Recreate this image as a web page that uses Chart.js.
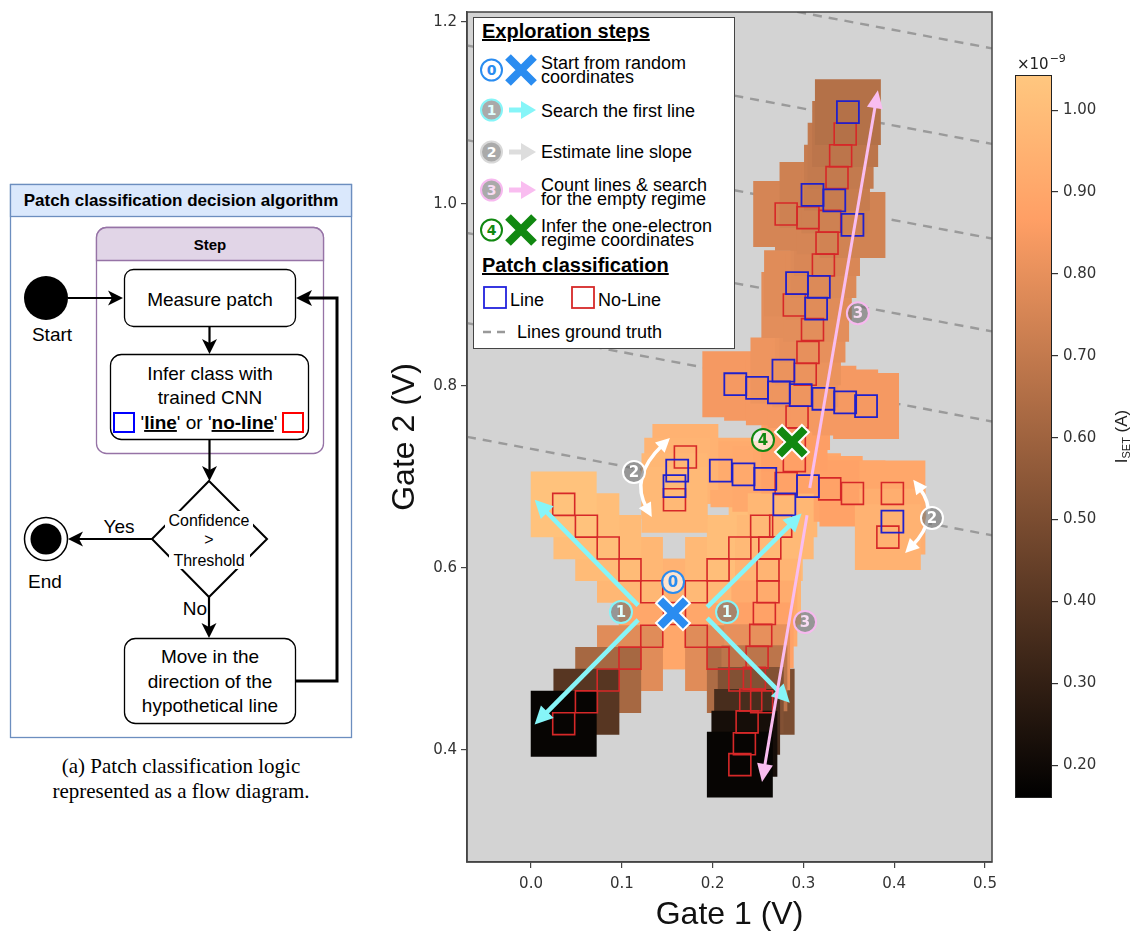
<!DOCTYPE html>
<html>
<head>
<meta charset="utf-8">
<title>Patch classification</title>
<script src="https://cdn.jsdelivr.net/npm/chart.js@4.4.1/dist/chart.umd.min.js"></script>
<style>
  html, body { margin: 0; padding: 0; background: #fff; }
  body { width: 1130px; height: 937px; position: relative; overflow: hidden; font-family: "Liberation Sans", Arial, sans-serif; }
  #flow { position: absolute; left: 0; top: 0; }
  #main { position: absolute; left: 380px; top: 0; }
  #cbar { position: absolute; left: 1000px; top: 0; }
  #legend { position: absolute; left: 473px; top: 17px; }
</style>
</head>
<body>

<svg id="flow" width="370" height="820" font-family="'Liberation Sans', Arial, sans-serif">
  <rect x="10.5" y="184.5" width="341" height="553" fill="#fff" stroke="#6c8ebf" stroke-width="1.3"/>
  <rect x="10.5" y="184.5" width="341" height="32" fill="#dae8fc" stroke="#6c8ebf" stroke-width="1.3"/>
  <text x="181" y="206" text-anchor="middle" font-size="17" font-weight="bold">Patch classification decision algorithm</text>

  <rect x="96.5" y="227.5" width="227" height="226" rx="10" fill="#fff" stroke="#9673a6" stroke-width="1.3"/>
  <path d="M96.5,260.5 V237.5 A10,10 0 0 1 106.5,227.5 H313.5 A10,10 0 0 1 323.5,237.5 V260.5 Z" fill="#e1d5e7" stroke="#9673a6" stroke-width="1.3"/>
  <text x="210" y="250" text-anchor="middle" font-size="15" font-weight="bold">Step</text>

  <circle cx="46" cy="298" r="22" fill="#000"/>
  <text x="52" y="341" text-anchor="middle" font-size="19">Start</text>
  <line x1="68" y1="298" x2="113" y2="298" stroke="#000" stroke-width="2.2"/>
  <path d="M123,298 L108,290.5 L112,298 L108,305.5 Z"/>

  <rect x="124.5" y="269.5" width="171" height="57" rx="9" fill="#fff" stroke="#000" stroke-width="1.3"/>
  <text x="210" y="306" text-anchor="middle" font-size="19">Measure patch</text>
  <line x1="209.5" y1="327" x2="209.5" y2="344" stroke="#000" stroke-width="2.2"/>
  <path d="M209.5,354 L202,339 L209.5,343 L217,339 Z"/>

  <rect x="110.5" y="354.5" width="198" height="85" rx="11" fill="#fff" stroke="#000" stroke-width="1.3"/>
  <text x="210" y="380" text-anchor="middle" font-size="19">Infer class with</text>
  <text x="210" y="404" text-anchor="middle" font-size="19">trained CNN</text>
  <text x="209" y="429" text-anchor="middle" font-size="19">'<tspan font-weight="bold" text-decoration="underline">line</tspan>' or '<tspan font-weight="bold" text-decoration="underline">no-line</tspan>'</text>
  <rect x="114" y="413" width="20" height="19" fill="none" stroke="#0000ff" stroke-width="2"/>
  <rect x="283" y="413" width="20" height="19" fill="none" stroke="#ff0000" stroke-width="2"/>
  <line x1="209.5" y1="440" x2="209.5" y2="470" stroke="#000" stroke-width="2.2"/>
  <path d="M209.5,481 L202,466 L209.5,470 L217,466 Z"/>

  <polygon points="209,481 267,539 209,597 152,539" fill="#fff" stroke="#000" stroke-width="2"/>
  <rect x="165" y="511" width="88" height="19" fill="#fff"/>
  <rect x="169" y="550" width="81" height="19" fill="#fff"/>
  <text x="209" y="526" text-anchor="middle" font-size="16">Confidence</text>
  <text x="209" y="545" text-anchor="middle" font-size="16">&gt;</text>
  <text x="209" y="566" text-anchor="middle" font-size="16">Threshold</text>

  <text x="119" y="533" text-anchor="middle" font-size="19">Yes</text>
  <line x1="152" y1="539" x2="79" y2="539" stroke="#000" stroke-width="2.2"/>
  <path d="M68,539 L83,531.5 L79,539 L83,546.5 Z"/>
  <circle cx="46" cy="539" r="21.5" fill="#fff" stroke="#000" stroke-width="1.5"/>
  <circle cx="46" cy="539" r="15.5" fill="#000"/>
  <text x="45" y="588" text-anchor="middle" font-size="19">End</text>

  <text x="207" y="615" text-anchor="end" font-size="19">No</text>
  <line x1="209" y1="597" x2="209" y2="628" stroke="#000" stroke-width="2.2"/>
  <path d="M209,638 L201.5,623 L209,627 L216.5,623 Z"/>

  <rect x="124.5" y="638.5" width="171" height="85" rx="11" fill="#fff" stroke="#000" stroke-width="1.3"/>
  <text x="210" y="663" text-anchor="middle" font-size="19">Move in the</text>
  <text x="210" y="688" text-anchor="middle" font-size="19">direction of the</text>
  <text x="210" y="712" text-anchor="middle" font-size="19">hypothetical line</text>

  <polyline points="296,681 337,681 337,298 308,298" fill="none" stroke="#000" stroke-width="3"/>
  <path d="M296,298 L312,290 L308,298 L312,306 Z"/>

  <text x="181" y="773" text-anchor="middle" font-size="21" font-family="'Liberation Serif', 'Times New Roman', serif">(a) Patch classification logic</text>
  <text x="181" y="798" text-anchor="middle" font-size="21" font-family="'Liberation Serif', 'Times New Roman', serif">represented as a flow diagram.</text>
</svg>

<canvas id="main" width="620" height="937"></canvas>
<canvas id="cbar" width="130" height="937"></canvas>

<svg id="legend" width="263" height="333" font-family="'Liberation Sans', Arial, sans-serif" font-size="18">
  <rect x="0.5" y="0.5" width="261" height="331" fill="#fff" stroke="#444" stroke-width="1"/>
  <text x="9" y="21" font-size="20" font-weight="bold" text-decoration="underline">Exploration steps</text>

  <circle cx="18.5" cy="53" r="10.5" fill="#fff" stroke="#2a8cf0" stroke-width="2"/>
  <text x="18.5" y="58" text-anchor="middle" font-family="'DejaVu Sans'" font-weight="bold" font-size="14" fill="#2a8cf0">0</text>
  <path d="M35,40 L61,66 M61,40 L35,66" stroke="#2a8cf0" stroke-width="8"/>
  <text x="68" y="52">Start from random</text>
  <text x="68" y="66">coordinates</text>

  <circle cx="18.5" cy="93" r="10.5" fill="#aaa" stroke="#86f5f8" stroke-width="2"/>
  <text x="18.5" y="98" text-anchor="middle" font-family="'DejaVu Sans'" font-weight="bold" font-size="14" fill="#dfffff">1</text>
  <line x1="36" y1="93" x2="52" y2="93" stroke="#86f5f8" stroke-width="5"/>
  <path d="M63,93 L48,84 L48,102 Z" fill="#86f5f8"/>
  <text x="68" y="100">Search the first line</text>

  <circle cx="18.5" cy="135" r="10.5" fill="#aaa" stroke="#d8d8d8" stroke-width="2"/>
  <text x="18.5" y="140" text-anchor="middle" font-family="'DejaVu Sans'" font-weight="bold" font-size="14" fill="#fff">2</text>
  <line x1="36" y1="135" x2="52" y2="135" stroke="#dddddd" stroke-width="5"/>
  <path d="M63,135 L48,126 L48,144 Z" fill="#dddddd"/>
  <text x="68" y="141">Estimate line slope</text>

  <circle cx="18.5" cy="173" r="10.5" fill="#aaa" stroke="#f7b9ef" stroke-width="2"/>
  <text x="18.5" y="178" text-anchor="middle" font-family="'DejaVu Sans'" font-weight="bold" font-size="14" fill="#f8dcf3">3</text>
  <line x1="36" y1="173" x2="52" y2="173" stroke="#f9bdf0" stroke-width="5"/>
  <path d="M63,173 L48,164 L48,182 Z" fill="#f9bdf0"/>
  <text x="68" y="174">Count lines &amp; search</text>
  <text x="68" y="188">for the empty regime</text>

  <circle cx="18.5" cy="213" r="10.5" fill="#fff" stroke="#118811" stroke-width="2"/>
  <text x="18.5" y="218" text-anchor="middle" font-family="'DejaVu Sans'" font-weight="bold" font-size="14" fill="#118811">4</text>
  <path d="M35,200 L61,226 M61,200 L35,226" stroke="#118811" stroke-width="8"/>
  <text x="68" y="215">Infer the one-electron</text>
  <text x="68" y="229">regime coordinates</text>

  <text x="9" y="255" font-size="20" font-weight="bold" text-decoration="underline">Patch classification</text>
  <rect x="11" y="270" width="22" height="21" fill="none" stroke="#2222dd" stroke-width="1.8"/>
  <text x="37" y="289">Line</text>
  <rect x="99" y="270" width="22" height="21" fill="none" stroke="#d62828" stroke-width="1.8"/>
  <text x="125" y="289">No-Line</text>
  <line x1="10" y1="315" x2="37" y2="315" stroke="#999" stroke-width="2.5" stroke-dasharray="8,6"/>
  <text x="44" y="321">Lines ground truth</text>
</svg>

<script>
// axes (V)
const X_RANGE = [-0.0705, 0.5077];
const Y_RANGE = [0.277, 1.211];
const X_TICKS = [0.0, 0.1, 0.2, 0.3, 0.4, 0.5];
const Y_TICKS = [0.4, 0.6, 0.8, 1.0, 1.2];

// colour scale, units of 1e-9 A
const CB_RANGE = [0.160, 1.043];
const CB_TICKS = [0.2, 0.3, 0.4, 0.5, 0.6, 0.7, 0.8, 0.9, 1.0];

// measured patches, in exploration order
const PATCH_SIZE = 0.0242;
const PATCH_X = [
  0.158, 0.133, 0.109, 0.085, 0.061, 0.036,
  0.133, 0.109, 0.085, 0.061, 0.036,
  0.182, 0.206, 0.230, 0.254, 0.279,
  0.182, 0.206, 0.230, 0.254,
  0.209, 0.234, 0.258, 0.281, 0.305, 0.329, 0.354,
  0.170, 0.161, 0.158, 0.158,
  0.398, 0.398, 0.393,
  0.275, 0.263, 0.261, 0.261, 0.257, 0.253, 0.249, 0.246, 0.242, 0.238, 0.235, 0.230,
  0.290, 0.290, 0.293,
  0.225, 0.249, 0.273, 0.297, 0.322, 0.346, 0.369,
  0.278, 0.302, 0.305, 0.310, 0.290, 0.314, 0.293, 0.317, 0.322, 0.326,
  0.281, 0.305, 0.329, 0.354, 0.310, 0.334, 0.337, 0.341, 0.346, 0.349
];
const PATCH_Y = [
  0.550, 0.574, 0.598, 0.622, 0.646, 0.670,
  0.525, 0.501, 0.477, 0.453, 0.429,
  0.574, 0.598, 0.622, 0.646, 0.670,
  0.525, 0.501, 0.477, 0.453,
  0.707, 0.703, 0.698, 0.693, 0.690, 0.687, 0.682,
  0.722, 0.707, 0.690, 0.675,
  0.682, 0.651, 0.634,
  0.646, 0.622, 0.598, 0.574, 0.550, 0.526, 0.502, 0.479, 0.455, 0.431, 0.407, 0.384,
  0.718, 0.742, 0.766,
  0.802, 0.798, 0.793, 0.790, 0.786, 0.782, 0.778,
  0.817, 0.813, 0.837, 0.862, 0.889, 0.885, 0.913, 0.909, 0.933, 0.957,
  0.989, 0.985, 0.981, 0.977, 1.010, 1.004, 1.029, 1.053, 1.077, 1.101
];
// 1 = 'line', 0 = 'no-line'
const PATCH_LINE = [
  0, 0, 0, 0, 0, 0,
  0, 0, 0, 0, 0,
  0, 0, 0, 0, 1,
  0, 0, 0, 0,
  1, 1, 1, 0, 1, 0, 0,
  0, 1, 1, 0,
  0, 1, 0,
  0, 0, 0, 0, 0, 0, 0, 0, 0, 0, 0, 0,
  0, 0, 0,
  1, 1, 1, 1, 1, 1, 1,
  1, 0, 0, 0, 0, 1, 1, 1, 0, 0,
  0, 0, 0, 1, 1, 1, 0, 0, 0, 1
];
// I_SET around each patch (x1e-9 A)
const PATCH_I = [
  0.93, 0.95, 0.97, 0.99, 1.00, 1.02,
  0.90, 0.78, 0.62, 0.40, 0.18,
  0.95, 0.98, 1.00, 1.00, 0.97,
  0.90, 0.78, 0.64, 0.50,
  0.93, 0.92, 0.91, 0.90, 0.90, 0.89, 0.88,
  0.95, 0.96, 0.97, 0.98,
  0.90, 0.93, 0.95,
  0.97, 0.98, 0.98, 0.96, 0.92, 0.88, 0.80, 0.68, 0.52, 0.36, 0.22, 0.18,
  0.88, 0.87, 0.86,
  0.84, 0.84, 0.84, 0.84, 0.84, 0.84, 0.84,
  0.82, 0.82, 0.81, 0.80, 0.79, 0.79, 0.78, 0.78, 0.77, 0.76,
  0.75, 0.75, 0.75, 0.74, 0.73, 0.73, 0.71, 0.70, 0.68, 0.66
];

// ground-truth transition lines: y = a + b x
const GT_INTERCEPT = [0.731, 0.856, 0.955, 1.057, 1.161, 1.266];
const GT_SLOPE = -0.187;

// exploration annotations (V)
const START_POINT = [0.1564, 0.5505];
const RESULT_POINT = [0.2874, 0.7385];
const STEP1_ARROWS = [[0.118, 0.559, 0.004, 0.675], [0.118, 0.543, 0.004, 0.428],
                      [0.194, 0.557, 0.298, 0.660], [0.194, 0.545, 0.285, 0.452]];
const STEP2_ARCS = [[0.153, 0.743, 0.108, 0.700, 0.133, 0.656],
                    [0.421, 0.697, 0.4515, 0.657, 0.412, 0.6165]];
const STEP3_ARROWS = [[0.307, 0.688, 0.382, 1.125], [0.304, 0.658, 0.2544, 0.365]];
const STEP_BADGES = [['0', 0.1564, 0.5846], ['1', 0.0991, 0.5516], ['1', 0.2159, 0.5516],
                     ['2', 0.1134, 0.7055], ['2', 0.4416, 0.655], ['3', 0.360, 0.880],
                     ['3', 0.3018, 0.5407], ['4', 0.2555, 0.7407]];

const BADGE_STYLE = {
  '0': {fill: 'rgba(255,255,255,0.65)', ring: '#2a8cf0', text: '#2a8cf0'},
  '1': {fill: 'rgba(110,110,110,0.6)', ring: '#86f5f8', text: '#dfffff'},
  '2': {fill: 'rgba(110,110,110,0.6)', ring: '#ffffff', text: '#ffffff'},
  '3': {fill: 'rgba(110,110,110,0.6)', ring: '#f7b9ef', text: '#f8dcf3'},
  '4': {fill: 'rgba(255,255,255,0.65)', ring: '#118811', text: '#118811'}
};
const TICK_FONT = {family: 'DejaVu Sans', size: 15};
const TICK_COLOR = '#333';
const AXIS_COLOR = '#444';

function copperT(t) {
  return 'rgb(' + Math.round(255 * Math.min(1, 1.25 * t)) + ',' +
         Math.round(255 * 0.7812 * t) + ',' + Math.round(255 * 0.4975 * t) + ')';
}
function copper(v) {
  const t = Math.min(1, Math.max(0, (v - CB_RANGE[0]) / (CB_RANGE[1] - CB_RANGE[0])));
  return copperT(t);
}

// radius for a 'rect' point whose side is mult patches wide
function patchRadius(chart, mult) {
  const s = chart.scales.x;
  return mult * Math.abs(s.getPixelForValue(PATCH_SIZE) - s.getPixelForValue(0)) / Math.SQRT2;
}

function head(ctx, bx, by, tx, ty, len, half) {
  const a = Math.atan2(ty - by, tx - bx), c = Math.cos(a), s = Math.sin(a);
  ctx.beginPath();
  ctx.moveTo(tx, ty);
  ctx.lineTo(tx - len * c - half * s, ty - len * s + half * c);
  ctx.lineTo(tx - len * c + half * s, ty - len * s - half * c);
  ctx.closePath();
  ctx.fill();
}
function straightArrow(ctx, x0, y0, x1, y1, color, w, len, half) {
  const d = Math.hypot(x1 - x0, y1 - y0), ux = (x1 - x0) / d, uy = (y1 - y0) / d;
  ctx.strokeStyle = color; ctx.fillStyle = color; ctx.lineWidth = w;
  ctx.beginPath();
  ctx.moveTo(x0, y0);
  ctx.lineTo(x1 - ux * len * 0.8, y1 - uy * len * 0.8);
  ctx.stroke();
  head(ctx, x0, y0, x1, y1, len, half);
}
function curvedArrow(ctx, x0, y0, cx, cy, x1, y1, color, w, len, half) {
  const n0 = Math.hypot(x0 - cx, y0 - cy), n1 = Math.hypot(x1 - cx, y1 - cy);
  ctx.strokeStyle = color; ctx.fillStyle = color; ctx.lineWidth = w;
  ctx.beginPath();
  ctx.moveTo(x0 - (x0 - cx) / n0 * len * 0.7, y0 - (y0 - cy) / n0 * len * 0.7);
  ctx.quadraticCurveTo(cx, cy, x1 - (x1 - cx) / n1 * len * 0.7, y1 - (y1 - cy) / n1 * len * 0.7);
  ctx.stroke();
  head(ctx, cx, cy, x0, y0, len, half);
  head(ctx, cx, cy, x1, y1, len, half);
}

const pts = PATCH_X.map((x, i) => ({x: x, y: PATCH_Y[i]}));
const linePts = pts.filter((p, i) => PATCH_LINE[i] === 1);
const noLinePts = pts.filter((p, i) => PATCH_LINE[i] === 0);

const datasets = [];
GT_INTERCEPT.forEach(a => {
  datasets.push({
    data: [{x: X_RANGE[0], y: a + GT_SLOPE * X_RANGE[0]}, {x: X_RANGE[1], y: a + GT_SLOPE * X_RANGE[1]}],
    showLine: true, borderColor: '#9a9a9a', borderWidth: 2.4, borderDash: [9, 7],
    pointRadius: 0, order: 10
  });
});
datasets.push({
  data: pts, pointStyle: 'rect',
  pointRadius: c => patchRadius(c.chart, 3),
  pointBackgroundColor: PATCH_I.map(copper), pointBorderWidth: 0, order: 9
});
datasets.push({
  data: noLinePts, pointStyle: 'rect',
  pointRadius: c => patchRadius(c.chart, 1),
  pointBackgroundColor: 'rgba(0,0,0,0)', pointBorderColor: '#d62828', pointBorderWidth: 1.6, order: 8
});
datasets.push({
  data: linePts, pointStyle: 'rect',
  pointRadius: c => patchRadius(c.chart, 1),
  pointBackgroundColor: 'rgba(0,0,0,0)', pointBorderColor: '#2020cc', pointBorderWidth: 1.8, order: 7
});
const MARKER_OUTLINE = datasets.length;
datasets.push({
  data: [{x: START_POINT[0], y: START_POINT[1]}, {x: RESULT_POINT[0], y: RESULT_POINT[1]}],
  pointStyle: 'crossRot', pointRadius: 20, pointBorderColor: '#ffffff', pointBorderWidth: 12, order: 3
});
datasets.push({
  data: [{x: START_POINT[0], y: START_POINT[1]}, {x: RESULT_POINT[0], y: RESULT_POINT[1]}],
  pointStyle: 'crossRot', pointRadius: 18, pointBorderColor: ['#2a8cf0', '#118811'], pointBorderWidth: 8, order: 2
});

const decor = {
  id: 'decor',
  beforeDraw(chart) {
    const {ctx, chartArea: a} = chart;
    ctx.save();
    ctx.fillStyle = '#d3d3d3';
    ctx.fillRect(a.left, a.top, a.right - a.left, a.bottom - a.top);
    ctx.restore();
  },
  beforeDatasetDraw(chart, args) {
    if (args.index !== MARKER_OUTLINE) return;
    const ctx = chart.ctx, xs = chart.scales.x, ys = chart.scales.y;
    const px = v => xs.getPixelForValue(v), py = v => ys.getPixelForValue(v);
    ctx.save();
    STEP1_ARROWS.forEach(a => straightArrow(ctx, px(a[0]), py(a[1]), px(a[2]), py(a[3]), '#86f5f8', 4.5, 18, 9));
    STEP3_ARROWS.forEach(a => straightArrow(ctx, px(a[0]), py(a[1]), px(a[2]), py(a[3]), '#f9bdf0', 3, 18, 8));
    STEP2_ARCS.forEach(a => curvedArrow(ctx, px(a[0]), py(a[1]), px(a[2]), py(a[3]), px(a[4]), py(a[5]), '#ffffff', 3.5, 14, 7));
    ctx.restore();
  },
  afterDatasetsDraw(chart) {
    const ctx = chart.ctx, xs = chart.scales.x, ys = chart.scales.y;
    ctx.save();
    STEP_BADGES.forEach(b => {
      const st = BADGE_STYLE[b[0]], X = xs.getPixelForValue(b[1]), Y = ys.getPixelForValue(b[2]);
      ctx.beginPath();
      ctx.arc(X, Y, 11, 0, 2 * Math.PI);
      ctx.fillStyle = st.fill; ctx.fill();
      ctx.lineWidth = 2; ctx.strokeStyle = st.ring; ctx.stroke();
      ctx.fillStyle = st.text;
      ctx.font = 'bold 15px "DejaVu Sans"';
      ctx.textAlign = 'center'; ctx.textBaseline = 'middle';
      ctx.fillText(b[0], X, Y + 1);
    });
    ctx.restore();
  },
  afterDraw(chart) {
    const {ctx, chartArea: a} = chart;
    ctx.save();
    ctx.strokeStyle = AXIS_COLOR; ctx.lineWidth = 1.5;
    ctx.strokeRect(a.left, a.top, a.right - a.left, a.bottom - a.top);
    ctx.restore();
  }
};

new Chart(document.getElementById('main'), {
  type: 'scatter',
  data: {datasets: datasets},
  options: {
    responsive: false, animation: false, events: [],
    layout: {autoPadding: false, padding: {top: 12, right: 8, left: 0, bottom: 0}},
    plugins: {legend: {display: false}, tooltip: {enabled: false}},
    scales: {
      x: {
        type: 'linear', min: X_RANGE[0], max: X_RANGE[1],
        afterBuildTicks: s => { s.ticks = X_TICKS.map(v => ({value: v})); },
        afterFit: s => { s.height = 75; s.paddingLeft = 0; s.paddingRight = 0; },
        ticks: {callback: v => v.toFixed(1), font: TICK_FONT, color: TICK_COLOR, padding: 7, maxRotation: 0, autoSkip: false},
        grid: {drawOnChartArea: false, tickLength: 6, color: AXIS_COLOR, lineWidth: 1.2},
        border: {color: AXIS_COLOR, width: 1.5},
        title: {display: true, text: 'Gate 1 (V)', font: {family: 'Liberation Sans', size: 32}, color: '#111', padding: {top: 0, bottom: 3}}
      },
      y: {
        type: 'linear', min: Y_RANGE[0], max: Y_RANGE[1],
        afterBuildTicks: s => { s.ticks = Y_TICKS.map(v => ({value: v})); },
        afterFit: s => { s.width = 87; s.paddingTop = 0; s.paddingBottom = 0; },
        ticks: {callback: v => v.toFixed(1), font: TICK_FONT, color: TICK_COLOR, padding: 4, autoSkip: false},
        grid: {drawOnChartArea: false, tickLength: 6, color: AXIS_COLOR, lineWidth: 1.2},
        border: {color: AXIS_COLOR, width: 1.5},
        title: {display: true, text: 'Gate 2 (V)', font: {family: 'Liberation Sans', size: 32}, color: '#111', padding: {top: 6, bottom: 0}}
      }
    }
  },
  plugins: [decor]
});

// colour bar
const cbDecor = {
  id: 'cbDecor',
  beforeDraw(chart) {
    const {ctx, chartArea: a} = chart;
    const g = ctx.createLinearGradient(0, a.bottom, 0, a.top);
    [0, 0.8, 1].forEach(t => g.addColorStop(t, copperT(t)));
    ctx.save();
    ctx.fillStyle = g;
    ctx.fillRect(a.left, a.top, a.right - a.left, a.bottom - a.top);
    ctx.restore();
  },
  afterDraw(chart) {
    const {ctx, chartArea: a} = chart;
    ctx.save();
    ctx.strokeStyle = '#222'; ctx.lineWidth = 1;
    ctx.strokeRect(a.left + 0.5, a.top + 0.5, a.right - a.left - 1, a.bottom - a.top - 1);
    ctx.fillStyle = '#222';
    ctx.textBaseline = 'alphabetic'; ctx.textAlign = 'left';
    ctx.font = '15px "DejaVu Sans"';
    ctx.fillText('\u00d710', 17, 69);
    const w10 = ctx.measureText('\u00d710').width;
    ctx.font = '11px "DejaVu Sans"';
    ctx.fillText('\u22129', 17 + w10 + 1, 62);
    // I_SET (A)
    ctx.translate(127, (a.top + a.bottom) / 2);
    ctx.rotate(-Math.PI / 2);
    ctx.font = '17px "Liberation Sans"';
    const wI = ctx.measureText('I').width, wA = ctx.measureText(' (A)').width;
    ctx.font = '11px "Liberation Sans"';
    const wS = ctx.measureText('SET').width;
    let x0 = -(wI + wS + wA) / 2;
    ctx.font = '17px "Liberation Sans"';
    ctx.fillText('I', x0, 0);
    ctx.font = '11px "Liberation Sans"';
    ctx.fillText('SET', x0 + wI, 3);
    ctx.font = '17px "Liberation Sans"';
    ctx.fillText(' (A)', x0 + wI + wS, 0);
    ctx.restore();
  }
};

new Chart(document.getElementById('cbar'), {
  type: 'scatter',
  data: {datasets: []},
  options: {
    responsive: false, animation: false, events: [],
    layout: {autoPadding: false, padding: {left: 15, top: 75, bottom: 139, right: 0}},
    plugins: {legend: {display: false}, tooltip: {enabled: false}},
    scales: {
      x: {display: false, min: 0, max: 1},
      y: {
        position: 'right', min: CB_RANGE[0], max: CB_RANGE[1],
        afterBuildTicks: s => { s.ticks = CB_TICKS.map(v => ({value: v})); },
        afterFit: s => { s.width = 78; s.paddingTop = 0; s.paddingBottom = 0; },
        ticks: {callback: v => v.toFixed(2), font: TICK_FONT, color: TICK_COLOR, padding: 5, autoSkip: false},
        grid: {drawOnChartArea: false, tickLength: 6, color: '#333', lineWidth: 1.2},
        border: {display: false}
      }
    }
  },
  plugins: [cbDecor]
});
</script>
</body>
</html>
